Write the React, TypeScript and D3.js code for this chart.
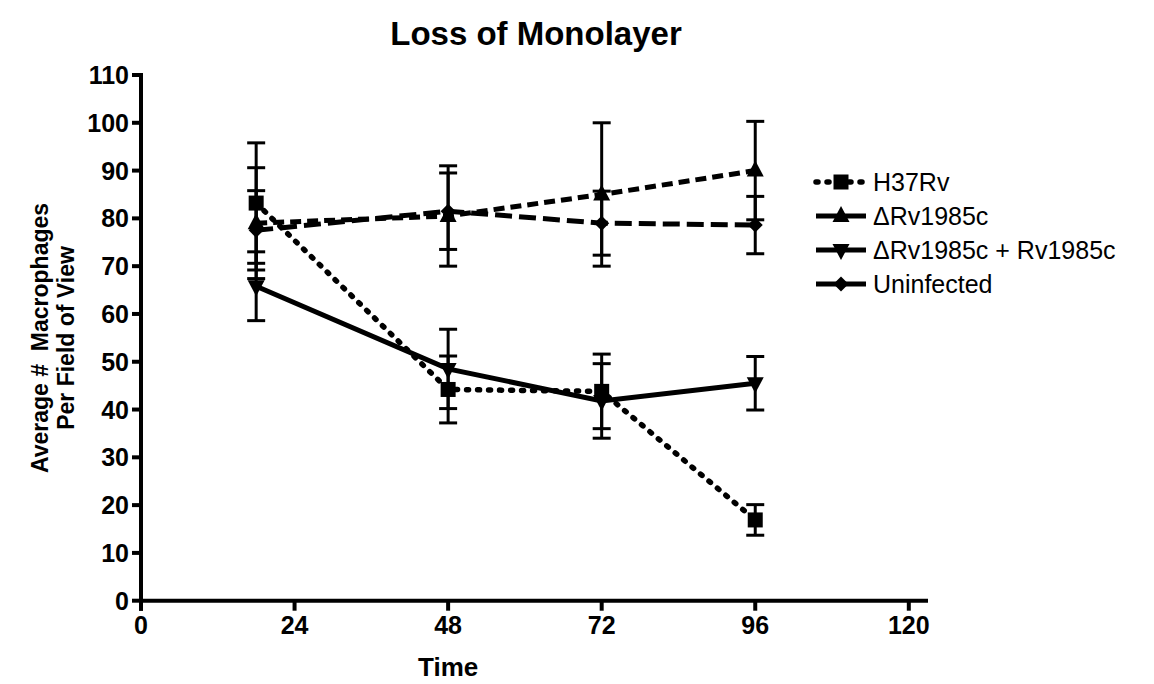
import React from "react";
import * as d3 from "d3";

const times = [18, 48, 72, 96];
const seriesNames = ["H37Rv", "ΔRv1985c", "ΔRv1985c + Rv1985c", "Uninfected"];
const h37rvMean = [83.2, 44.2, 43.8, 16.9];
const h37rvErr = [12.6, 7.0, 7.8, 3.2];
const deltaMean = [79, 80.5, 85, 90];
const deltaErr = [11.6, 10.5, 15, 10.3];
const compMean = [65.8, 48.5, 41.8, 45.5];
const compErr = [7.2, 8.3, 7.8, 5.6];
const uninfMean = [77.5, 81.5, 79, 78.6];
const uninfErr = [8.3, 8, 6.7, 6];
const xTicks = [0, 24, 48, 72, 96, 120];
const yTicks = [0, 10, 20, 30, 40, 50, 60, 70, 80, 90, 100, 110];

const W = 1154, H = 684;
const FONT = "'Liberation Sans', Arial, sans-serif";

const x = d3.scaleLinear().domain([0, 123]).range([141, 928]);
const y = d3.scaleLinear().domain([0, 110]).range([600.7, 75]);

type Marker = "square" | "up" | "down" | "diamond";
const styles: { dash: string; cap: "round" | "butt"; marker: Marker }[] = [
  { dash: "2 9", cap: "round", marker: "square" },
  { dash: "11 6", cap: "butt", marker: "up" },
  { dash: "", cap: "butt", marker: "down" },
  { dash: "17 7", cap: "butt", marker: "diamond" },
];
const means = [h37rvMean, deltaMean, compMean, uninfMean];
const errs = [h37rvErr, deltaErr, compErr, uninfErr];

function MarkerShape({ type, cx, cy }: { type: Marker; cx: number; cy: number }) {
  if (type === "square") return <rect x={cx - 7.5} y={cy - 7.5} width={15} height={15} fill="#000" />;
  if (type === "up") return <path d={`M${cx},${cy - 10}L${cx + 8.5},${cy + 6}L${cx - 8.5},${cy + 6}Z`} fill="#000" />;
  if (type === "down") return <path d={`M${cx},${cy + 10}L${cx + 8.5},${cy - 6}L${cx - 8.5},${cy - 6}Z`} fill="#000" />;
  return <path d={`M${cx},${cy - 7.5}L${cx + 7.5},${cy}L${cx},${cy + 7.5}L${cx - 7.5},${cy}Z`} fill="#000" />;
}

export default function App() {
  const line = d3.line<[number, number]>().x((d) => x(d[0])).y((d) => y(d[1]));
  const legendY = [182, 216, 250, 284];
  return (
    <svg width={W} height={H} style={{ position: "absolute", left: 0, top: 0, background: "#fff" }}>
      <rect width={W} height={H} fill="#fff" />
      <text x={536} y={45} textAnchor="middle" fontFamily={FONT} fontWeight="bold" fontSize={33}>
        Loss of Monolayer
      </text>
      {/* axes */}
      <line x1={x(0)} x2={x(0)} y1={y(110) - 2} y2={y(0) + 10} stroke="#000" strokeWidth={4} />
      <line x1={x(0) - 2} x2={x(123)} y1={y(0)} y2={y(0)} stroke="#000" strokeWidth={4} />
      {yTicks.map((t) => (
        <g key={"y" + t}>
          <line x1={x(0) - 9} x2={x(0)} y1={y(t)} y2={y(t)} stroke="#000" strokeWidth={4} />
          <text x={x(0) - 12} y={y(t)} dy="0.36em" textAnchor="end" fontFamily={FONT} fontWeight="bold" fontSize={25}>
            {t}
          </text>
        </g>
      ))}
      {xTicks.map((t) => (
        <g key={"x" + t}>
          <line x1={x(t)} x2={x(t)} y1={y(0)} y2={y(0) + 10} stroke="#000" strokeWidth={4} />
          <text x={x(t)} y={y(0) + 33} textAnchor="middle" fontFamily={FONT} fontWeight="bold" fontSize={25}>
            {t}
          </text>
        </g>
      ))}
      <text x={x(48)} y={676} textAnchor="middle" fontFamily={FONT} fontWeight="bold" fontSize={26}>
        Time
      </text>
      <g transform="translate(48,338) rotate(-90)">
        <text x={0} y={0} textAnchor="middle" fontFamily={FONT} fontWeight="bold" fontSize={23} xmlSpace="preserve">
          Average #  Macrophages
        </text>
        <text x={0} y={26} textAnchor="middle" fontFamily={FONT} fontWeight="bold" fontSize={23}>
          Per Field of View
        </text>
      </g>
      {/* error bars */}
      {means.map((m, si) =>
        m.map((v, i) => {
          const e = errs[si][i];
          const cx = x(times[i]);
          return (
            <g key={`e${si}-${i}`} stroke="#000" strokeWidth={3}>
              <line x1={cx} x2={cx} y1={y(v + e)} y2={y(v - e)} />
              <line x1={cx - 9} x2={cx + 9} y1={y(v + e)} y2={y(v + e)} />
              <line x1={cx - 9} x2={cx + 9} y1={y(v - e)} y2={y(v - e)} />
            </g>
          );
        })
      )}
      {/* lines */}
      {means.map((m, si) => (
        <path
          key={"l" + si}
          d={line(m.map((v, i) => [times[i], v] as [number, number])) || ""}
          fill="none"
          stroke="#000"
          strokeWidth={si === 0 ? 5.5 : 5}
          strokeDasharray={styles[si].dash}
          strokeLinecap={styles[si].cap}
        />
      ))}
      {means.map((m, si) =>
        m.map((v, i) => <MarkerShape key={`m${si}-${i}`} type={styles[si].marker} cx={x(times[i])} cy={y(v)} />)
      )}
      {/* legend */}
      {seriesNames.map((name, si) => (
        <g key={"lg" + si}>
          <line
            x1={816}
            x2={866}
            y1={legendY[si]}
            y2={legendY[si]}
            stroke="#000"
            strokeWidth={si === 0 ? 5.5 : 5}
            strokeDasharray={si === 0 ? "2 9" : ""}
            strokeLinecap={si === 0 ? "round" : "butt"}
          />
          <MarkerShape type={styles[si].marker} cx={841} cy={legendY[si]} />
          <text x={873} y={legendY[si]} dy="0.36em" fontFamily={FONT} fontSize={25}>
            {name}
          </text>
        </g>
      ))}
    </svg>
  );
}
